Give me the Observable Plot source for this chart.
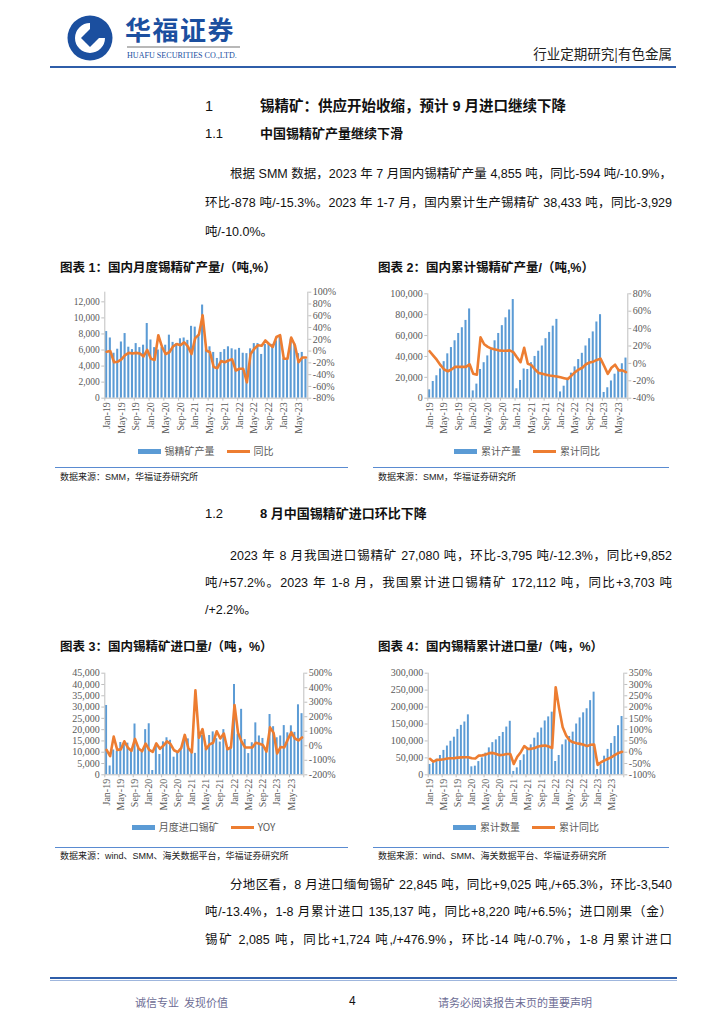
<!DOCTYPE html>
<html><head><meta charset="utf-8">
<script src="https://cdn.jsdelivr.net/npm/d3@7"></script>
<script src="https://cdn.jsdelivr.net/npm/@observablehq/plot@0.6"></script>
<style>
body{margin:0;background:#fff;}
#page{position:relative;width:724px;height:1024px;overflow:hidden;font-family:"Liberation Sans","Noto Sans CJK SC",sans-serif;color:#111;}
.t{position:absolute;white-space:nowrap;}
.jl{position:absolute;white-space:nowrap;text-align:justify;text-align-last:justify;font-size:12.5px;line-height:16px;}
.pl{position:absolute;white-space:nowrap;font-size:12.5px;line-height:16px;}
.ct{position:absolute;white-space:nowrap;font-size:12.5px;font-weight:bold;line-height:16px;}
.src{position:absolute;white-space:nowrap;font-size:9px;line-height:12px;color:#222;}
.chart{position:absolute;}
.legend{position:absolute;display:flex;justify-content:center;align-items:center;font-family:"Noto Sans CJK SC",sans-serif;font-size:10px;color:#595959;height:12px;line-height:12px;}
.legend .sw{display:inline-block;width:23px;height:5px;background:#5b9bd5;margin-right:4px;}
.legend .ln{display:inline-block;width:23px;height:3px;background:#ed7d31;margin-right:4px;margin-left:12px;}
.hline{position:absolute;height:0;}
</style></head>
<body><div id="page">
<svg class="t" style="left:63px;top:14px" width="54" height="48" viewBox="0 0 54 48">
  <circle cx="27" cy="24" r="22.5" fill="#1b4f9f"/>
  <path d="M27 9 A15 15 0 1 0 42 24 L33 24 A6 6 0 1 1 27 18 Z" fill="#fff"/>
  <path d="M27 15 L36 24 L27 33 L18 24 Z" fill="#1b4f9f"/>
</svg>
<div class="t" style="left:125px;top:16px;font-family:'Noto Sans CJK SC';font-weight:bold;font-size:26px;line-height:26px;color:#1b4f9f;letter-spacing:1.5px;">华福证券</div>
<div class="t" style="left:127px;top:46px;width:113px;height:2px;background:#b8b8b8;"></div>
<div class="t" style="left:127px;top:51px;font-family:'Liberation Serif';font-size:8.5px;line-height:9px;color:#1b4f9f;transform:scaleX(0.95);transform-origin:left;">HUAFU SECURITIES CO.,LTD.</div>
<div class="t" style="right:52px;top:45px;font-family:'Noto Sans CJK SC';font-size:13.5px;line-height:16px;color:#222;">行业定期研究|有色金属</div>
<div class="hline" style="left:50px;top:66px;width:626px;border-top:2px solid #2f5ea9;"></div>

<div class="t" style="left:205px;top:97px;font-size:14.5px;line-height:18px;">1</div>
<div class="t" style="left:260px;top:97px;font-size:14.5px;line-height:18px;font-weight:bold;">锡精矿：供应开始收缩，预计 9 月进口继续下降</div>
<div class="t" style="left:205px;top:126px;font-size:13px;line-height:16px;">1.1</div>
<div class="t" style="left:260px;top:126px;font-size:13px;line-height:16px;font-weight:bold;">中国锡精矿产量继续下滑</div>

<div class="jl" style="left:230px;width:442px;top:166px;">根据 SMM 数据，2023 年 7 月国内锡精矿产量 4,855 吨，同比-594 吨/-10.9%，</div>
<div class="jl" style="left:205px;width:467px;top:195px;">环比-878 吨/-15.3%。2023 年 1-7 月，国内累计生产锡精矿 38,433 吨，同比-3,929</div>
<div class="pl" style="left:205px;top:224px;">吨/-10.0%。</div>

<div class="ct" style="left:60px;top:260px;">图表 1：国内月度锡精矿产量/（吨,%）</div>
<div class="ct" style="left:378px;top:260px;">图表 2：国内累计锡精矿产量/（吨,%）</div>
<div id="c1" class="chart" style="left:55px;top:285px;"></div>
<div id="c2" class="chart" style="left:375px;top:285px;"></div>
<div id="l1" class="legend" style="left:104px;width:203px;top:445px;"></div>
<div id="l2" class="legend" style="left:427px;width:200px;top:445px;"></div>
<div class="hline" style="left:55px;top:467px;width:293px;border-top:1px solid #5a8bd1;"></div>
<div class="hline" style="left:373px;top:467px;width:296px;border-top:1px solid #5a8bd1;"></div>
<div class="src" style="left:60px;top:471px;">数据来源：SMM，华福证券研究所</div>
<div class="src" style="left:378px;top:471px;">数据来源：SMM，华福证券研究所</div>

<div class="t" style="left:205px;top:506px;font-size:13px;line-height:16px;">1.2</div>
<div class="t" style="left:260px;top:506px;font-size:13px;line-height:16px;font-weight:bold;">8 月中国锡精矿进口环比下降</div>

<div class="jl" style="left:230px;width:442px;top:548px;">2023 年 8 月我国进口锡精矿 27,080 吨，环比-3,795 吨/-12.3%，同比+9,852</div>
<div class="jl" style="left:205px;width:467px;top:575px;">吨/+57.2%。2023 年 1-8 月，我国累计进口锡精矿 172,112 吨，同比+3,703 吨</div>
<div class="pl" style="left:205px;top:602px;">/+2.2%。</div>

<div class="ct" style="left:60px;top:639px;">图表 3：国内锡精矿进口量/（吨，%）</div>
<div class="ct" style="left:378px;top:639px;">图表 4：国内锡精累计进口量/（吨，%）</div>
<div id="c3" class="chart" style="left:55px;top:660px;"></div>
<div id="c4" class="chart" style="left:375px;top:660px;"></div>
<div id="l3" class="legend" style="left:104px;width:199px;top:821px;"></div>
<div id="l4" class="legend" style="left:428px;width:196px;top:821px;"></div>
<div class="hline" style="left:55px;top:847px;width:293px;border-top:1px solid #5a8bd1;"></div>
<div class="hline" style="left:373px;top:847px;width:296px;border-top:1px solid #5a8bd1;"></div>
<div class="src" style="left:60px;top:850px;">数据来源：wind、SMM、海关数据平台，华福证券研究所</div>
<div class="src" style="left:378px;top:850px;">数据来源：wind、SMM、海关数据平台、华福证券研究所</div>

<div class="jl" style="left:230px;width:442px;top:877px;">分地区看，8 月进口缅甸锡矿 22,845 吨，同比+9,025 吨,/+65.3%，环比-3,540</div>
<div class="jl" style="left:205px;width:467px;top:904px;">吨/-13.4%，1-8 月累计进口 135,137 吨，同比+8,220 吨/+6.5%；进口刚果（金）</div>
<div class="jl" style="left:205px;width:467px;top:932px;">锡矿 2,085 吨，同比+1,724 吨,/+476.9%，环比-14 吨/-0.7%，1-8 月累计进口</div>

<div class="hline" style="left:50px;top:977px;width:627px;border-top:2px solid #2f5ea9;"></div>
<div class="hline" style="left:50px;top:980px;width:627px;border-top:1px solid #9fb6dd;"></div>
<div class="t" style="left:135px;top:995px;font-family:'Noto Sans CJK SC';font-size:11px;line-height:14px;color:#6d6d95;">诚信专业&nbsp;&nbsp;发现价值</div>
<div class="t" style="left:349px;top:994px;font-size:12px;line-height:14px;color:#111;">4</div>
<div class="t" style="left:438px;top:995px;font-family:'Noto Sans CJK SC';font-size:11px;line-height:14px;color:#6d6d95;">请务必阅读报告末页的重要声明</div>
</div>
<script>
// ---- data ----
const monthNames = ["Jan","Feb","Mar","Apr","May","Jun","Jul","Aug","Sep","Oct","Nov","Dec"];
const tickLabels = ["Jan-19","May-19","Sep-19","Jan-20","May-20","Sep-20","Jan-21","May-21","Sep-21","Jan-22","May-22","Sep-22","Jan-23","May-23"];

// Chart 1: monthly tin concentrate output (t) and YoY (%)
const output1 = [8300,7500,5600,6100,7000,8050,6350,6050,6800,6300,6600,9300,
  7250,6300,6000,6300,6600,7850,6950,6800,7400,7500,7200,8950,
  8850,7900,11600,6000,6400,5700,4950,5700,6050,6400,6150,6000,
  6200,5600,5550,6150,6800,6800,5450,6700,6800,6700,7150,7750,
  4900,4900,7350,6750,5550,5700,4855];
const yoy1 = [-1,0,-19,-18,-14,-7,-3,-4,-3,-4,-9,2,
  -13,-15,27,7,-5,-2,8,12,10,15,8,-5,
  22,28,61,1,-2,-27,-29,-17,-19,-16,-14,-33,
  -30,-30,-53,-5,4,10,9,18,12,7,24,27,
  -13,-13,23,10,-19,-11,-10.9];

// Chart 2: cumulative output (t) and cumulative YoY (%)
const cum2 = [8000,16000,21500,28000,35000,42500,48500,55000,62000,67500,74500,85500,
  7000,13500,27500,34000,40500,46500,55000,62000,69500,77000,84500,94500,
  9000,17000,28000,27500,34000,40000,45000,50000,57000,63000,69000,75500,
  6000,11500,19000,24000,30000,37000,43000,50000,57000,63500,73000,80000,
  5500,10000,16500,23000,28000,33000,38433];
const cumYoy2 = [14,9,4,-2,-7,-9,-7,-4,-4,-4,-4,-1,
  -12,-13,30,22,19,17,16,15,14.5,14.5,15,13,
  7,1.5,18,-0.5,-2,-7,-11,-12,-13,-14,-14.5,-15,
  -16,-17,-18,-14,-10,-7,-5,-1,1,2,4,5.5,
  -3,-12,-5,-1.5,-8,-8,-10];

// Chart 3: monthly imports (t) and YoY (%)
const imports3 = [30700,3900,11000,10500,14300,13500,14000,11000,22500,12500,10000,20000,
  22600,1900,13700,9000,14600,16400,15300,7800,9700,11600,16100,15900,
  10200,9500,19000,17500,11500,17400,19000,16000,14500,20000,11500,12500,
  40000,18000,29000,15600,9400,14200,23000,17200,16100,10200,26700,21300,
  16400,17200,21800,18600,21700,18800,31000,27080];
const yoy3 = [-28,-72,63,-28,-25,31,-13,-35,47,-18,-38,15,
  -28,-42,16,-21,1,30,12,-31,-44,-16,75,-15,
  -45,382,55,115,-24,10,21,100,50,84,-24,-12,
  281,89,28,-12,-12,-12,21,14,5,-40,127,89,
  -53,-8,-12,44,93,50,37,57.2];

// Chart 4: cumulative imports (t) and cumulative YoY (%)
const cum4 = [30500,35000,46000,57000,72000,85000,99000,111000,134000,146000,156000,177000,
  23500,25500,39000,50000,64000,79500,95000,103000,113000,125000,141000,158000,
  10000,20500,42000,59000,75000,88500,108000,124000,138000,159000,171000,185000,
  39300,57000,88500,103000,113000,126000,150000,168000,183000,195000,219000,244000,
  15700,30000,55000,75000,92500,113000,145000,172112];
const cumYoy4 = [-29,-42,-34,-33,-31,-28,-27,-26,-24,-23,-22,-22,
  -27,-28,-15,-14,-10,-4,-3,-8,-13,-11,-8,-8,
  -52,-20,0,27,15,15,19,25,28,30,25,19,
  288,192,111,74,52,44,40,37,33,27,33,34,
  -56,-44,-36,-29,-22,-12,-3,2.2];

const legend1 = ["锡精矿产量","同比"];
const legend2 = ["累计产量","累计同比"];
const legend3 = ["月度进口锡矿","YOY"];
const legend4 = ["累计数量","累计同比"];

// ---- drawing ----
function cats(n){const a=[];for(let i=0;i<n;i++)a.push(monthNames[i%12]+"-"+(19+Math.floor(i/12)));return a;}

function dual(id, o){
  const n = o.bars.length, C = cats(n);
  const data = o.bars.map((v,i)=>({i, c:C[i], bar:v, pct:o.line[i]}));
  const L = o.leftMax, r0 = o.rMin, r1 = o.rMax;
  const toL = p => (p - r0) / (r1 - r0) * L;
  const fromL = v => r0 + v / L * (r1 - r0);
  const labelIdx = tickLabels.map(t => C.indexOf(t));
  const bounds = labelIdx.map(i => i - 0.5).concat([n - 0.5]);
  const fmt = d3.format(",");
  const p = Plot.plot({
    width: 290, height: 155,
    marginLeft: o.ml, marginRight: o.mr, marginTop: o.mt, marginBottom: o.mb,
    x: {type: "linear", domain: [-0.5, n - 0.5], label: null},
    y: {domain: [0, L], label: null},
    style: {fontFamily: "'Liberation Serif','Times New Roman',serif", fontSize: "10px", color: "#595959", background: "transparent", overflow: "visible"},
    marks: [
      Plot.rectY(data, {x1: d => d.i - 0.28, x2: d => d.i + 0.28, y1: 0, y2: "bar", fill: "#5b9bd5"}),
      Plot.ruleY([0], {stroke: "#bfbfbf"}),
      Plot.ruleX([-0.5, n - 0.5], {stroke: "#bfbfbf"}),
      Plot.lineY(data, {x: "i", y: d => toL(d.pct), stroke: "#ed7d31", strokeWidth: 2.6, strokeLinejoin: "round"}),
      Plot.axisY(o.leftTicks, {anchor: "left", label: null, tickSize: 3, tickPadding: 2, stroke: "#bfbfbf", tickFormat: d => fmt(d), fontSize: o.lfs || 10}),
      Plot.axisY(o.rightTicks.map(toL), {anchor: "right", label: null, tickSize: 3, tickPadding: 2, stroke: "#bfbfbf", tickFormat: v => Math.round(fromL(v)) + "%"}),
      Plot.axisX(labelIdx, {label: null, tickSize: 0, tickPadding: 4, tickRotate: -90, tickFormat: i => C[i]}),
      Plot.axisX(bounds, {label: null, tickSize: 3, stroke: "#bfbfbf", tickFormat: () => ""})
    ]
  });
  document.getElementById(id).appendChild(p);
}
function legend(id, names){
  const el = document.getElementById(id);
  el.innerHTML = '<span class="sw"></span><span>' + names[0] + '</span><span class="ln"></span><span>' + names[1] + '</span>';
}
const range = (a,b,s) => d3.range(a, b + s/2, s);

dual("c1", {bars: output1, line: yoy1, leftMax: 13200, leftTicks: range(0,12000,2000), rMin: -80, rMax: 100, rightTicks: range(-80,100,20), ml: 49.3, mr: 37.7, mt: 6.7, mb: 42.3, lfs: 9.5});
dual("c2", {bars: cum2, line: cumYoy2, leftMax: 100000, leftTicks: range(0,100000,20000), rMin: -40, rMax: 80, rightTicks: range(-40,80,20), ml: 52.3, mr: 37.7, mt: 8.3, mb: 42.3});
dual("c3", {bars: imports3, line: yoy3, leftMax: 45000, leftTicks: range(0,45000,5000), rMin: -200, rMax: 500, rightTicks: range(-200,500,100), ml: 49.3, mr: 41.7, mt: 12.7, mb: 40.7});
dual("c4", {bars: cum4, line: cumYoy4, leftMax: 300000, leftTicks: range(0,300000,50000), rMin: -100, rMax: 350, rightTicks: range(-100,350,50), ml: 52.7, mr: 41.7, mt: 12.7, mb: 40.7});
legend("l1", legend1); legend("l2", legend2); legend("l3", legend3); legend("l4", legend4);
</script>
</body></html>
